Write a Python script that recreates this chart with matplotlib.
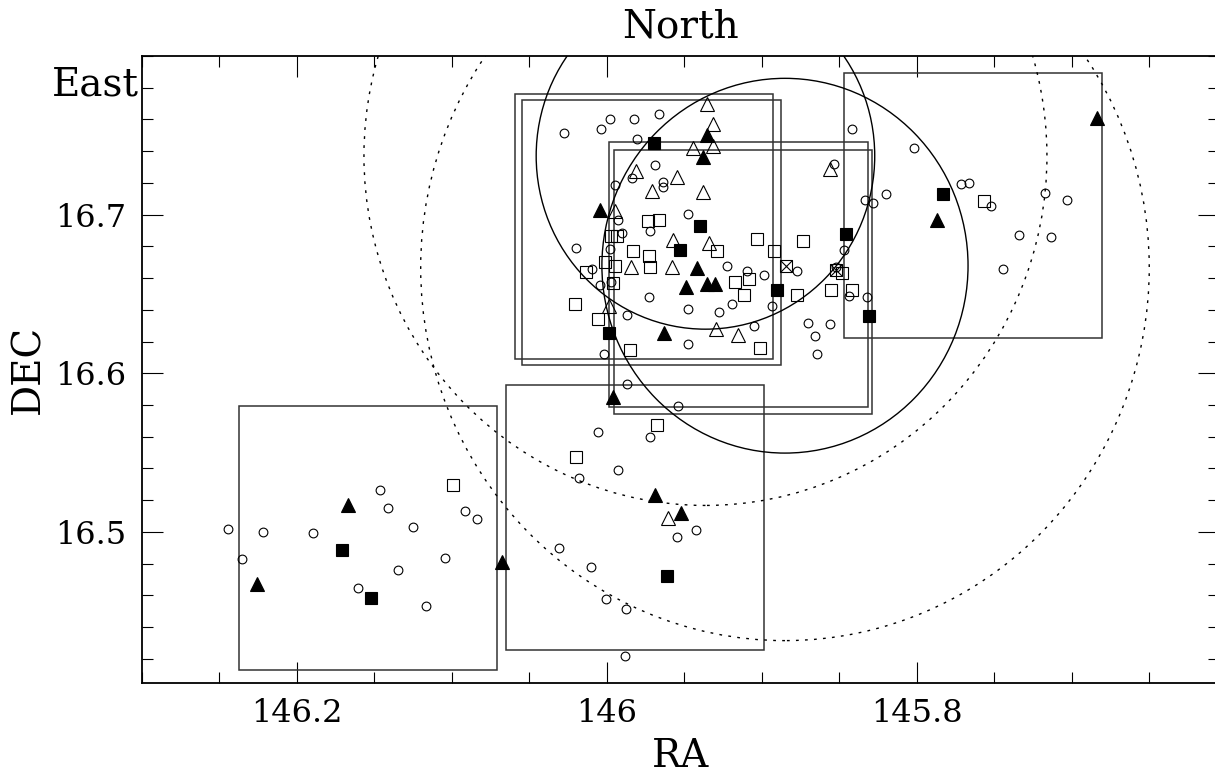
import numpy as np
import matplotlib.pyplot as plt
from matplotlib.patches import Rectangle, Ellipse
from matplotlib.ticker import FixedLocator, MultipleLocator

plt.rcParams['font.family'] = ['DejaVu Serif']

# ---- data (RA, DEC in degrees) ----
# open circles
circ_ra = [146.2441, 146.2217, 146.2351, 146.1895, 146.1463, 146.1411, 146.1252, 146.0916,
           146.0835, 146.1043, 146.1348, 146.1605, 146.1168,
           145.9871, 145.9542, 146.0054, 145.9719, 145.9927, 146.0181, 145.9424, 145.9546,
           146.0306, 146.0099, 146.0003, 145.9874, 145.9884,
           146.0274, 146.0037, 145.9979, 145.9824, 145.9665, 145.9806, 145.9686, 145.9837,
           145.9635, 145.9635, 145.9946, 145.9925, 145.9721, 145.9903,
           145.8419, 145.8534, 145.8334, 145.9474,
           146.0196, 145.9981, 146.0093, 146.0045, 145.9970, 145.9727, 145.9871, 146.0016,
           145.9476, 145.9476,
           145.9226, 145.9097, 145.8985, 145.9275, 145.9190, 145.8934, 145.9050, 145.8770,
           145.8469, 145.8523, 145.8437, 145.8699, 145.8557, 145.8658, 145.8643, 145.8323,
           145.8019, 145.8200, 145.8280, 145.7714, 145.7661, 145.7523, 145.7174, 145.7028,
           145.7340, 145.7134, 145.7443]
circ_dec = [16.5021, 16.4998, 16.4828, 16.4992, 16.5263, 16.5148, 16.5034, 16.5135,
            16.5080, 16.4838, 16.4762, 16.4646, 16.4535,
            16.5933, 16.5794, 16.5628, 16.5596, 16.5388, 16.5337, 16.5015, 16.4965,
            16.4899, 16.4781, 16.4579, 16.4516, 16.4215,
            16.7517, 16.7542, 16.7601, 16.7603, 16.7632, 16.7479, 16.7315, 16.7232,
            16.7207, 16.7173, 16.7188, 16.6969, 16.6895, 16.6882,
            16.7538, 16.7317, 16.7089, 16.7001,
            16.6790, 16.6781, 16.6660, 16.6554, 16.6573, 16.6481, 16.6365, 16.6123,
            16.6407, 16.6186,
            16.6678, 16.6647, 16.6622, 16.6388, 16.6437, 16.6421, 16.6299, 16.6647,
            16.6780, 16.6672, 16.6487, 16.6318, 16.6308, 16.6238, 16.6123, 16.6483,
            16.7422, 16.7131, 16.7076, 16.7192, 16.7198, 16.7053, 16.7135, 16.7095,
            16.6874, 16.6862, 16.6660]

# open squares
osq_ra = [146.0990, 145.9676, 146.0196, 145.9732, 145.9661, 145.9972, 145.9934, 145.9032,
          145.8736, 145.9828, 145.9727, 145.9723, 146.0011, 145.9946, 146.0134, 145.9957,
          146.0206, 146.0058, 145.9850, 145.9290, 145.8921, 145.9170, 145.9082, 145.9114,
          145.8772, 145.8553, 145.8419, 145.8480, 145.9013, 145.7564]
osq_dec = [16.5299, 16.5672, 16.5472, 16.6961, 16.6969, 16.6868, 16.6868, 16.6849,
           16.6836, 16.6773, 16.6737, 16.6670, 16.6704, 16.6678, 16.6641, 16.6567,
           16.6434, 16.6342, 16.6146, 16.6769, 16.6773, 16.6573, 16.6596, 16.6491,
           16.6493, 16.6527, 16.6527, 16.6634, 16.6160, 16.7085]

# crossed squares
xsq_ra = [145.8843, 145.8523]
xsq_dec = [16.6674, 16.6653]

# filled squares
fsq_ra = [146.1710, 146.1521, 145.9609, 145.9693, 145.9398, 145.8456, 145.9527, 145.9983,
          145.8899, 145.7832, 145.8306]
fsq_dec = [16.4886, 16.4586, 16.4725, 16.7454, 16.6927, 16.6881, 16.6780, 16.6253,
           16.6522, 16.7131, 16.6361]

# open triangles
otri_ra = [145.9607, 145.9811, 145.9546, 145.9708, 145.9946, 145.9570, 145.9355, 145.9312,
           145.9441, 145.9312, 145.9381, 145.8559, 145.9338, 145.9845, 145.9581, 145.9983,
           145.9295, 145.9155]
otri_dec = [16.5088, 16.7274, 16.7239, 16.7148, 16.7022, 16.6838, 16.7696, 16.7569,
            16.7422, 16.7432, 16.7144, 16.7285, 16.6824, 16.6672, 16.6668, 16.6426,
            16.6279, 16.6243]

# filled triangles
ftri_ra = [146.1669, 146.2256, 146.0677, 145.9957, 145.9690, 145.9523, 146.0043, 145.9351,
           145.9377, 145.9488, 145.9630, 145.9416, 145.9355, 145.9301, 145.7871, 145.6839]
ftri_dec = [16.5169, 16.4674, 16.4809, 16.5853, 16.5232, 16.5120, 16.7026, 16.7502,
            16.7363, 16.6541, 16.6253, 16.6664, 16.6565, 16.6565, 16.6969, 16.7609]

# 10 arcmin fields (centres)
box_ra = [146.1540, 145.9818, 145.9759, 145.9710, 145.9150, 145.9120, 145.7638]
box_dec = [16.4961, 16.5092, 16.6925, 16.6886, 16.6624, 16.6576, 16.7057]
box_size = 0.1667

# circles: centre, radius (deg), style
ring_ra = [145.9363, 145.8850, 145.9363, 145.8850]
ring_dec = [16.7370, 16.6678, 16.7370, 16.6665]
ring_r = [0.1092, 0.1181, 0.2203, 0.2350]
ring_dotted = [False, False, True, True]

# ---- figure ----
fig = plt.figure(figsize=(12.15, 7.74), dpi=100)
ax = fig.add_axes([0.1166, 0.1180, 0.8867, 0.8097])

for ra, dec in zip(box_ra, box_dec):
    h = box_size / 2
    ax.add_patch(Rectangle((ra - h, dec - h), box_size, box_size, fill=False,
                           edgecolor='0.2', lw=1.1, zorder=2))

for ra, dec, r, dot in zip(ring_ra, ring_dec, ring_r, ring_dotted):
    ls = (0, (2, 4.5)) if dot else '-'
    ax.add_patch(Ellipse((ra, dec), 2 * r, 2 * r, fill=False, edgecolor='k',
                         lw=1.0, linestyle=ls, zorder=2))

mk = dict(linestyle='none', color='k', markeredgewidth=0.8, zorder=3)
ax.plot(circ_ra, circ_dec, marker='o', markersize=6.3, markerfacecolor='none', **mk)
ax.plot(osq_ra, osq_dec, marker='s', markersize=8.3, markerfacecolor='none', **mk)
ax.plot(xsq_ra, xsq_dec, marker='s', markersize=8.3, markerfacecolor='none', **mk)
ax.plot(xsq_ra, xsq_dec, marker='x', markersize=8.3, **mk)
ax.plot(fsq_ra, fsq_dec, marker='s', markersize=8.3, markerfacecolor='k', **mk)
ax.plot(otri_ra, otri_dec, marker='^', markersize=10, markerfacecolor='none', **mk)
ax.plot(ftri_ra, ftri_dec, marker='^', markersize=10, markerfacecolor='k', **mk)

ax.set_xlim(146.3, 145.605)
ax.set_ylim(16.405, 16.8)

ax.xaxis.set_major_locator(FixedLocator([146.2, 146.0, 145.8]))
ax.xaxis.set_minor_locator(MultipleLocator(0.05))
ax.set_xticklabels(['146.2', '146', '145.8'])
ax.yaxis.set_major_locator(FixedLocator([16.5, 16.6, 16.7]))
ax.yaxis.set_minor_locator(MultipleLocator(0.02))
ax.set_yticklabels(['16.5', '16.6', '16.7'])

ax.tick_params(which='both', direction='in', top=True, right=True, width=0.8)
ax.tick_params(which='major', length=15, labelsize=23)
ax.tick_params(axis='x', which='major', pad=11)
ax.tick_params(axis='y', which='major', pad=11)
ax.tick_params(which='minor', length=8)
for s in ax.spines.values():
    s.set_linewidth(1.3)

fig.text(680 / 1215, 1 - 38 / 774, 'North', ha='center', va='baseline', fontsize=28)
fig.text(139 / 1215, 1 - 95 / 774, 'East', ha='right', va='baseline', fontsize=28)
fig.text(680 / 1215, 1 - 767 / 774, 'RA', ha='center', va='baseline', fontsize=28)
fig.text(29 / 1215, 1 - 369 / 774, 'DEC', rotation=90, ha='center', va='center', fontsize=28)

fig.savefig('out.png', dpi=100)
